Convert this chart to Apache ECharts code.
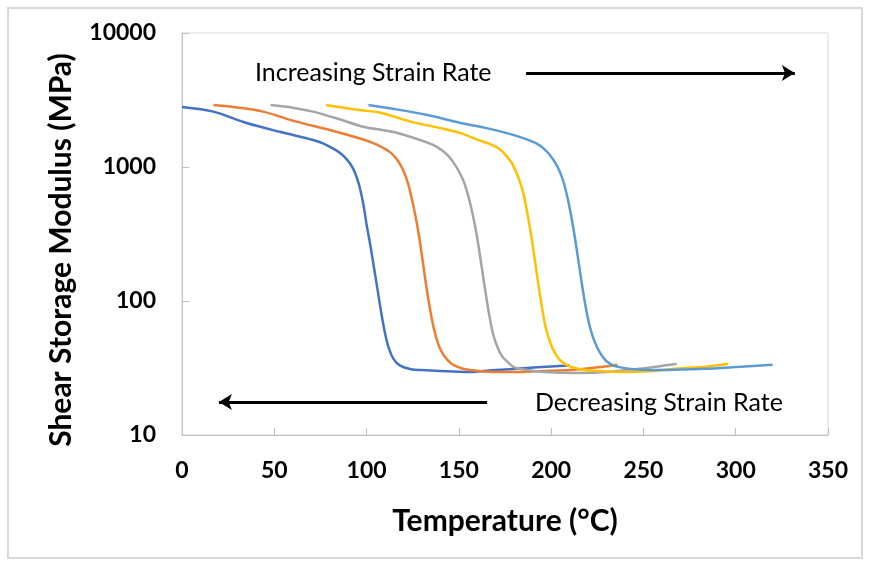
<!DOCTYPE html>
<html style="height: 100%">
   <head>
       <meta charset="utf-8">
   </head>
   <body style="height: 100%; margin: 0; background: #fff">
       <div id="container" style="width: 870px; height: 567px"></div>
       <script type="text/javascript" src="https://cdn.jsdelivr.net/npm/echarts@6/dist/echarts.min.js"></script>
       <script type="text/javascript">
            // temperature (°C) and shear storage modulus (MPa) for each strain rate
            var t1 = [0, 17, 35, 53, 71, 77, 82, 86, 89, 91.5, 93.5, 95.5, 97, 98.5, 100, 102, 104, 106, 108, 110, 112, 114.5, 118, 124, 130, 140, 155, 170, 185, 200, 210];
            var g1 = [2800, 2590, 2130, 1830, 1590, 1490, 1370, 1260, 1150, 1040, 920, 770, 640, 505, 372, 263, 178, 120, 81, 57.5, 44.7, 37.2, 33.1, 31, 30.5, 30, 29.5, 30.5, 31.5, 32.5, 33];
            var t2 = [17, 30, 44, 62, 80, 96, 103, 109, 113, 116, 118.5, 120.5, 122.5, 124.5, 126.5, 128.5, 130.5, 132.5, 134.5, 136.5, 139, 142, 146, 151, 156, 168, 180, 195, 210, 225, 236];
            var g2 = [2900, 2780, 2590, 2180, 1890, 1640, 1520, 1390, 1280, 1160, 1030, 900, 750, 580, 430, 300, 195, 125, 85, 62, 47, 39, 34, 31.6, 30.5, 29.5, 29.5, 30, 30.5, 32, 33.5];
            var t3 = [48, 60, 71, 85, 98, 114, 129, 136, 141, 144.5, 147.5, 150, 152.5, 154.5, 156.5, 158.5, 160.5, 162.5, 164.5, 166.5, 168.5, 171, 173.5, 176.5, 180, 187, 196, 214, 230, 245, 258, 268];
            var g3 = [2900, 2770, 2590, 2280, 2000, 1830, 1590, 1460, 1330, 1200, 1060, 930, 790, 650, 510, 380, 265, 175, 115, 78, 57, 45, 38.5, 35, 32, 30.5, 29.5, 29, 29.5, 31, 32.5, 34];
            var t4 = [78, 96, 107, 124, 140, 151, 160, 167, 172, 175.5, 178.5, 181, 183, 185, 187, 189, 191, 193, 195, 197, 199.5, 202, 205, 210, 216, 225, 240, 255, 270, 285, 296];
            var g4 = [2900, 2660, 2550, 2180, 1950, 1790, 1600, 1480, 1360, 1220, 1080, 920, 780, 630, 460, 320, 210, 135, 90, 64, 49, 41, 36, 32.5, 31, 30, 29.5, 30, 31.5, 32.5, 34];
            var t5 = [101, 117, 133, 151, 165, 178, 186, 192, 196, 199.5, 202.5, 205, 207, 209, 211, 213, 215, 217, 219, 221, 223.5, 226.5, 230, 235, 245, 260, 275, 290, 305, 320];
            var g5 = [2900, 2680, 2440, 2130, 1950, 1760, 1620, 1500, 1370, 1220, 1060, 900, 750, 580, 420, 290, 190, 125, 86, 64, 50, 41, 35.5, 32.5, 31, 30.5, 31, 31.5, 32.5, 33.5];

            var colors = ['#4472C4', '#ED7D31', '#A5A5A5', '#FFC000', '#5B9BD5'];

            function zip(t, g) {
                var out = [];
                for (var i = 0; i < t.length; i++) out.push([t[i], g[i]]);
                return out;
            }

            var dom = document.getElementById("container");
            var myChart = echarts.init(dom);
            var font = 'Lato';

            var curves = [[t1, g1], [t2, g2], [t3, g3], [t4, g4], [t5, g5]];
            var series = curves.map(function (c, i) {
                return {
                    type: 'line',
                    data: zip(c[0], c[1]),
                    smooth: 0.3,
                    showSymbol: false,
                    lineStyle: {color: colors[i], width: 2.5},
                    itemStyle: {color: colors[i]},
                    z: 2 + i
                };
            });

            // arrows for the annotations
            series[0].markLine = {
                silent: true,
                symbol: ['none', 'arrow'],
                symbolSize: [12, 13],
                label: {show: false},
                lineStyle: {color: '#000', width: 3, type: 'solid'},
                data: [
                    [{coord: [186.4, 5020]}, {coord: [332, 5020]}],
                    [{coord: [165.3, 17.6]}, {coord: [20, 17.6]}]
                ]
            };

            var option = {
                animation: false,
                backgroundColor: '#fff',
                grid: {
                    left: 182, right: 42, top: 33, bottom: 132,
                    show: true, borderColor: '#D9D9D9', borderWidth: 1
                },
                xAxis: {
                    type: 'value',
                    min: 0, max: 350, interval: 50,
                    name: 'Temperature (°C)',
                    nameLocation: 'middle',
                    nameGap: 71,
                    nameTextStyle: {fontFamily: font, fontWeight: 'bold', fontSize: 30, color: '#000'},
                    axisLine: {lineStyle: {color: '#BFBFBF'}},
                    axisTick: {inside: true, length: 7, lineStyle: {color: '#BFBFBF'}},
                    axisLabel: {fontFamily: font, fontWeight: 'bold', fontSize: 23, color: '#000', margin: 24},
                    splitLine: {show: false}
                },
                yAxis: {
                    type: 'log',
                    logBase: 10,
                    min: 10, max: 10000,
                    axisLine: {show: true, lineStyle: {color: '#BFBFBF'}},
                    axisTick: {show: true, inside: true, length: 7, lineStyle: {color: '#BFBFBF'}},
                    axisLabel: {
                        fontFamily: font, fontWeight: 'bold', fontSize: 23, color: '#000', margin: 26,
                        formatter: function (v) { return String(Math.round(v)); }
                    },
                    minorTick: {show: false},
                    splitLine: {show: false}
                },
                graphic: [
                    {
                        type: 'rect', silent: true, z: -1,
                        shape: {x: 8, y: 8, width: 854, height: 550},
                        style: {fill: 'none', stroke: '#D9D9D9', lineWidth: 2}
                    },
                    {
                        type: 'text', x: 61, y: 250, rotation: Math.PI / 2,
                        style: {
                            text: 'Shear Storage Modulus (MPa)', align: 'center', verticalAlign: 'middle',
                            font: 'bold 30px Lato', fill: '#000'
                        }
                    },
                    {
                        type: 'text',
                        style: {x: 255, y: 73, verticalAlign: 'middle', text: 'Increasing Strain Rate', font: '25px Lato', fill: '#000'}
                    },
                    {
                        type: 'text',
                        style: {x: 535, y: 403, verticalAlign: 'middle', text: 'Decreasing Strain Rate', font: '25px Lato', fill: '#000'}
                    }
                ],
                series: series
            };

            if (option && typeof option === "object") {
                myChart.setOption(option, true);
            }
       </script>
   </body>
</html>
